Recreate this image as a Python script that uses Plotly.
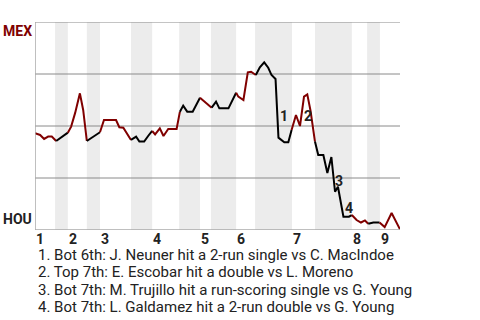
import plotly.graph_objects as go

# Game progress (0-100) and MEX win probability (%)
progress = [0, 1.4, 2.5, 3.6, 4.6, 5.8,
            6.8, 8.0, 9.0,
            9.9, 11.0, 12.3, 13.2, 14.2,
            15.5, 16.9, 17.8,
            18.9, 22.2, 23.1, 24.2, 25.6, 26.3,
            27.7, 28.6, 29.9, 31.0, 32.1,
            32.9, 34.2, 35.2, 36.5, 38.8, 39.7,
            40.6, 41.7, 43.2, 45.2,
            46.3, 47.4, 48.4,
            49.6, 50.5, 53.0, 55.1,
            55.7, 57.1, 58.3, 59.2, 60.5,
            61.6, 62.8, 63.9, 64.8, 65.9, 66.7, 68.3, 69.4, 70.3,
            71.5, 72.6, 73.7, 74.6, 75.5, 76.7,
            77.6, 79.0, 80.1, 81.2, 82.2, 83.0, 84.5, 86.0, 86.8,
            88.1, 89.3, 90.4, 91.3,
            92.7, 94.4,
            95.8, 97.7, 100]
mex_wp = [46.5, 45.7, 43.8, 44.9, 44.9, 42.8,
          44.1, 45.7, 46.8,
          49.7, 56.3, 65.7, 57.7, 42.8,
          44.4, 46.0, 47.0,
          52.9, 52.9, 49.4, 49.2, 44.9, 43.3,
          44.9, 42.5, 42.5, 45.2, 47.6,
          46.0, 48.9, 45.2, 48.6, 48.6, 56.9,
          59.8, 56.9, 56.9, 63.6,
          62.0, 60.4, 58.8,
          61.7, 58.5, 58.5, 66.0,
          64.1, 62.5, 75.8, 76.1, 74.5,
          78.2, 80.6, 78.0, 74.5, 72.6, 44.4, 42.2, 42.2, 48.1,
          55.3, 50.0, 64.1, 65.2, 57.2, 42.5,
          36.1, 36.1, 27.4, 35.1, 18.4, 20.8, 6.4, 6.4, 7.2,
          4.8, 3.6, 4.6, 3.0,
          3.6, 3.6,
          1.4, 8.2, 0.3]

# Bottom halves (HOU batting) as progress intervals
band_start = [5.5, 14.2, 26.3, 39.5, 48.2, 60.3, 76.7, 91.0]
band_end = [9.0, 17.8, 32.1, 45.2, 55.1, 70.4, 86.8, 94.5]
inning_start = [0, 9.0, 17.8, 32.1, 45.2, 55.1, 70.3, 86.8, 94.5]
inning_labels = ["1", "2", "3", "4", "5", "6", "7", "8", "9"]

event_labels = ["1", "2", "3", "4"]
event_x = [68.1, 74.8, 83.4, 85.9]
event_y = [54.8, 54.6, 23.6, 10.6]
notes = ["1. Bot 6th: J. Neuner hit a 2-run single vs C. MacIndoe",
         "2. Top 7th: E. Escobar hit a double vs L. Moreno",
         "3. Bot 7th: M. Trujillo hit a run-scoring single vs G. Young",
         "4. Bot 7th: L. Galdamez hit a 2-run double vs G. Young"]

RED = "#800000"
INK = "#222222"
GRID = "#8a8a8a"


def hou_batting(xm):
    return any(a <= xm <= b for a, b in zip(band_start, band_end))


fig = go.Figure()

# group consecutive segments by batting team
groups = []
cur = None
for i in range(len(progress) - 1):
    xm = (progress[i] + progress[i + 1]) / 2
    team = hou_batting(xm)
    if cur is None or cur[0] != team:
        cur = [team, [progress[i]], [mex_wp[i]]]
        groups.append(cur)
    cur[1].append(progress[i + 1])
    cur[2].append(mex_wp[i + 1])

for team, xs, ys in groups:
    fig.add_trace(go.Scatter(x=xs, y=ys, mode="lines",
                             line=dict(color="black" if team else RED, width=2),
                             hoverinfo="skip", showlegend=False))

shapes = []
for a, b in zip(band_start, band_end):
    shapes.append(dict(type="rect", xref="x", yref="y", x0=a, x1=b, y0=0, y1=100,
                       fillcolor="#ececec", line=dict(width=0), layer="below"))
for g in [25, 50, 75, 100]:
    shapes.append(dict(type="line", xref="x", yref="y", x0=0, x1=100, y0=g, y1=g,
                       line=dict(color=GRID, width=1), layer="below"))
shapes.append(dict(type="line", xref="x", yref="y", x0=0, x1=100, y0=0, y1=0,
                   line=dict(color="#aaaaaa", width=1.5), layer="above"))
shapes.append(dict(type="line", xref="x", yref="y", x0=0, x1=0, y0=0, y1=100,
                   line=dict(color="#aaaaaa", width=1.5), layer="above"))

ann = []
for xs, lab in zip(inning_start, inning_labels):
    ann.append(dict(x=xs, y=0, xref="x", yref="y", text=lab, showarrow=False,
                    xanchor="left", yanchor="top", yshift=1, xshift=-1,
                    font=dict(family="Roboto", size=14, color=INK, weight="bold")))
for lab, xe, ye in zip(event_labels, event_x, event_y):
    ann.append(dict(x=xe, y=ye, xref="x", yref="y", text=lab, showarrow=False,
                    xanchor="center", yanchor="middle",
                    font=dict(family="Roboto", size=14, color=INK, weight="bold")))
ann.append(dict(x=0, y=100, xref="x", yref="y", text="MEX", showarrow=False,
                xanchor="right", yanchor="top", xshift=-1, yshift=1,
                font=dict(family="Roboto", size=14, color=RED, weight="bold")))
ann.append(dict(x=0, y=0, xref="x", yref="y", text="HOU", showarrow=False,
                xanchor="right", yanchor="bottom", xshift=-1, yshift=1,
                font=dict(family="Roboto", size=14, color=INK, weight="bold")))

H, W = 320, 480
L, R, T, B = 35, 80, 22, 90
for k, t in enumerate(notes):
    ypx = 255 + 17.3 * k
    ann.append(dict(x=(36 - L) / (W - L - R), y=(H - B - ypx) / (H - T - B),
                    xref="paper", yref="paper", text=t,
                    showarrow=False, xanchor="left", yanchor="middle",
                    font=dict(family="Roboto", size=15, color=INK)))

fig.update_layout(
    width=W, height=H, margin=dict(l=L, r=R, t=T, b=B),
    paper_bgcolor="white", plot_bgcolor="white",
    xaxis=dict(range=[0, 100], showgrid=False, zeroline=False, showticklabels=False,
               fixedrange=True),
    yaxis=dict(range=[0, 100], showgrid=False, zeroline=False, showticklabels=False,
               fixedrange=True),
    shapes=shapes, annotations=ann,
)

fig.write_html("out.html")
